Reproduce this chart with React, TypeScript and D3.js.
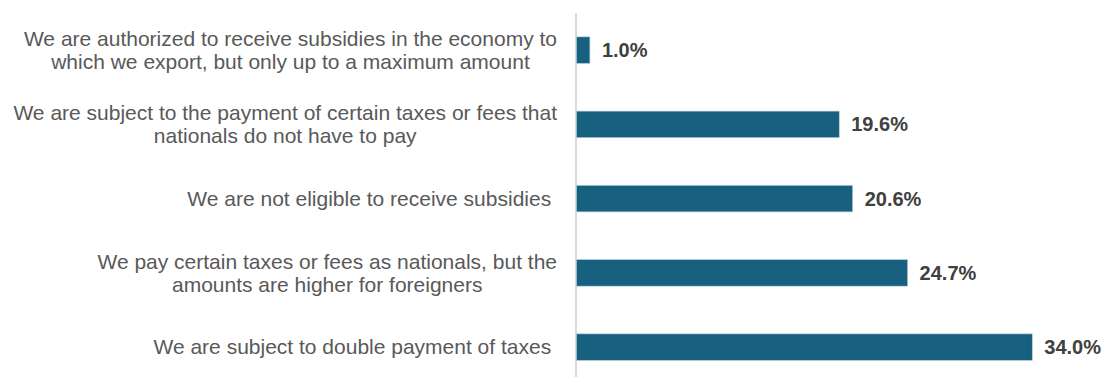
import React, { useEffect, useRef } from "react";
import * as d3 from "d3";

// Survey answers, top to bottom, each split into its display lines
const categories: string[][] = [
  ["We are authorized to receive subsidies in the economy to", "which we export, but only up to a maximum amount"],
  ["We are subject to the payment of certain taxes or fees that", "nationals do not have to pay"],
  ["We are not eligible to receive subsidies "],
  ["We pay certain taxes or fees as nationals, but the", "amounts are higher for foreigners"],
  ["We are subject to double payment of taxes "],
];
const shares: number[] = [1.0, 19.6, 20.6, 24.7, 34.0];
const valueLabels: string[] = ["1.0%", "19.6%", "20.6%", "24.7%", "34.0%"];

const WIDTH = 1105;
const HEIGHT = 377;
const FONT = "'Liberation Sans', Arial, Helvetica, sans-serif";

export default function App() {
  const ref = useRef<SVGSVGElement | null>(null);

  useEffect(() => {
    const svg = d3.select(ref.current);
    svg.selectAll("*").remove();

    const x = d3.scaleLinear().domain([0, 40]).range([576.5, 1112.7]);
    const y = d3
      .scaleBand<number>()
      .domain(d3.range(shares.length))
      .range([13, 384.25])
      .paddingInner(0.643)
      .paddingOuter(0.3215);

    // vertical category axis line
    svg
      .append("line")
      .attr("x1", 576)
      .attr("x2", 576)
      .attr("y1", 13)
      .attr("y2", 384)
      .attr("stroke", "#d9d9d9")
      .attr("stroke-width", 2);

    // bars
    svg
      .append("g")
      .selectAll("rect")
      .data(shares)
      .join("rect")
      .attr("x", x(0))
      .attr("y", (_, i) => y(i)!)
      .attr("width", (d) => x(d) - x(0))
      .attr("height", y.bandwidth())
      .attr("fill", "#17607f")
      .attr("stroke", "#b5cdd9")
      .attr("stroke-width", 0.6);

    // value labels
    svg
      .append("g")
      .selectAll("text")
      .data(shares)
      .join("text")
      .attr("x", (d) => x(d) + 12)
      .attr("y", (_, i) => y(i)! + y.bandwidth() / 2 + 7)
      .attr("font-family", FONT)
      .attr("font-size", 20)
      .attr("font-weight", "bold")
      .attr("fill", "#404040")
      .text((_, i) => valueLabels[i]);

    // category labels: block right-aligned, lines centred within the block
    const fs = 21;
    const lineH = 23;
    const right = 557;
    const labels = svg.append("g");
    categories.forEach((lines, i) => {
      const cy = y(i)! + y.bandwidth() / 2;
      const t = labels
        .append("text")
        .attr("font-family", FONT)
        .attr("font-size", fs)
        .attr("fill", "#595959")
        .style("white-space", "pre");
      const spans = lines.map((ln, k) =>
        t
          .append("tspan")
          .attr("y", cy - ((lines.length - 1) * lineH) / 2 + k * lineH + fs * 0.35)
          .text(ln)
      );
      const widths = spans.map((s) => (s.node() as SVGTSpanElement).getComputedTextLength());
      const blockW = Math.max(...widths);
      spans.forEach((s, k) => {
        s.attr("x", right - blockW / 2 - widths[k] / 2);
      });
    });
  }, []);

  return (
    <svg
      ref={ref}
      width={WIDTH}
      height={HEIGHT}
      style={{ position: "absolute", left: 0, top: 0, display: "block", background: "#ffffff" }}
    />
  );
}
